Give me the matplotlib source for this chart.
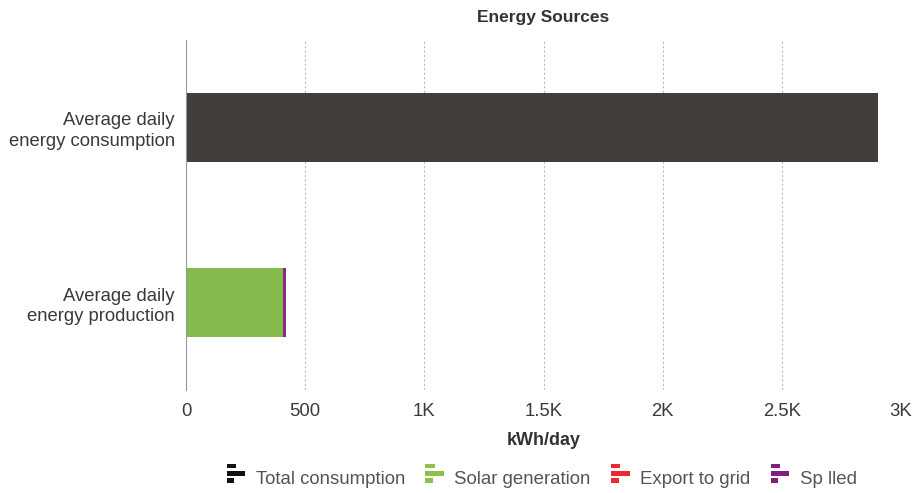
import numpy as np
import matplotlib.pyplot as plt
from matplotlib.legend_handler import HandlerBase
from matplotlib.patches import Rectangle
from matplotlib.ticker import FuncFormatter

plt.rcParams['font.family'] = ['Liberation Sans', 'DejaVu Sans']

# data
categories = ['Average daily\nenergy consumption', 'Average daily\nenergy production']
series_names = ['Total consumption', 'Solar generation', 'Export to grid', 'Sp lled']
consumption = [2905, 0]
solar = [0, 407]
export = [0, 0]
spilled = [0, 12]

bar_colors = ['#433d3c', '#84bb4c', '#e8393b', '#8b2a86']
legend_colors = ['#111111', '#8bc34a', '#f0272d', '#7f1f83']


class BarIconHandler(HandlerBase):
    # small three-bar glyph like the original legend
    def create_artists(self, legend, orig, x0, y0, w, h, fontsize, trans):
        c = orig.get_facecolor()
        bars = [(0.0, 0.62, 0.5), (0.0, 0.26, 1.0), (0.0, -0.10, 0.4)]
        out = []
        for bx, by, bw in bars:
            r = Rectangle((x0 + bx * w, y0 + by * h), bw * w, h * 0.25,
                          facecolor=c, edgecolor='none', transform=trans)
            out.append(r)
        return out


fig = plt.figure(figsize=(9.15, 4.93), dpi=100)
ax = fig.add_axes([0.2033, 0.2089, 0.7814, 0.71])

y = np.arange(len(categories))
h = 0.39
series = [consumption, solar, export, spilled]
left = np.zeros(len(categories))
handles = []
for vals, name, c, lc in zip(series, series_names, bar_colors, legend_colors):
    ax.barh(y, vals, height=h, left=left, color=c, zorder=3)
    left = left + np.array(vals)
    handles.append(Rectangle((0, 0), 1, 1, facecolor=lc, label=name))

ax.set_ylim(1.5, -0.5)
ax.set_xlim(0, 3000)
ax.set_xticks(np.arange(0, 3001, 500))
ax.xaxis.set_major_formatter(FuncFormatter(
    lambda v, p: '0' if v == 0 else (f'{v/1000:g}K' if v >= 1000 else f'{v:g}')))
ax.set_yticks(y)
ax.set_yticklabels(categories, fontsize=13.3, color='#3a3a3a', linespacing=1.25)
ax.tick_params(axis='x', labelsize=13.3, colors='#3a3a3a', length=0, pad=9)
ax.tick_params(axis='y', length=0, pad=8)
for lab in ax.get_yticklabels():
    lab.set_horizontalalignment('right')
    lab.set_multialignment('right')

ax.grid(axis='x', color='#bbbbbb', linestyle=(0, (2, 2)), linewidth=0.8, zorder=0)
for s in ['top', 'right', 'bottom']:
    ax.spines[s].set_visible(False)
ax.spines['left'].set_color('#999999')
ax.spines['left'].set_zorder(4)

ax.set_title('Energy Sources', fontsize=12.5, fontweight='bold', color='#333333', pad=13)
ax.set_xlabel('kWh/day', fontsize=13, fontweight='bold', color='#333333', labelpad=9)

fig.legend(handles=handles, loc='center', bbox_to_anchor=(0.592, 0.03), ncol=4,
           frameon=False, fontsize=13.4, handler_map={Rectangle: BarIconHandler()},
           handlelength=1.0, handleheight=1.25, handletextpad=0.55, columnspacing=1.1,
           labelcolor='#555555')

fig.savefig('out.png', dpi=100)
